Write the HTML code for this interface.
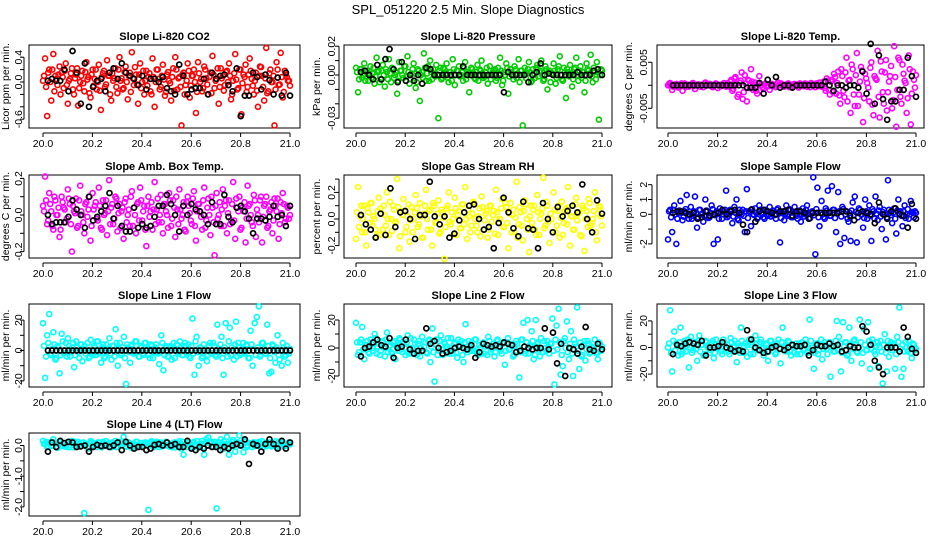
<!DOCTYPE html>
<html><head><meta charset="utf-8"><style>
html,body{margin:0;padding:0;background:#fff;}
svg{display:block;font-family:"Liberation Sans",Arial,sans-serif;}
</style></head><body>
<svg id="chart" width="936" height="540" viewBox="0 0 936 540" xmlns="http://www.w3.org/2000/svg">
<text x="468" y="14" text-anchor="middle" font-size="13">SPL_051220  2.5 Min. Slope Diagnostics</text>
</svg>
<script>
// ---- data ----
const xTicks = [20.0,20.2,20.4,20.6,20.8,21.0];
const xTickLabels = ["20.0","20.2","20.4","20.6","20.8","21.0"];
const co2Vals = [0.02,0.38,-0.55,0.2,-0.3,0.45,0.1,-0.05,0.25,0.15,-0.1,0.3,-0.35,0.05,0.22,-0.2,0.12,-0.38,0.0,0.18,-0.15,0.32,0.08,-0.25,0.2,0.05,-0.12,0.28,-0.45,0.14,-0.08,0.35,0.1,-0.3,0.02,0.22,-0.18,0.4,0.06,-0.1,0.25,-0.28,0.15,0.48,-0.05,0.12,-0.35,0.3,0.0,-0.2,0.18,0.08,-0.15,0.38,-0.4,0.2,0.05,-0.08,0.28,-0.22,0.12,0.02,-0.3,0.22,0.4,-0.12,0.08,-0.7,0.15,-0.05,0.3,-0.25,0.1,0.2,-0.5,0.32,0.0,-0.15,0.25,0.06,-0.2,0.15,0.42,-0.1,0.05,-0.35,0.22,0.1,-0.05,0.18,0.3,-0.28,0.02,0.45,-0.12,0.2,-0.52,0.12,0.28,-0.08,0.38,0.05,-0.2,0.15,-0.4,0.25,0.1,-0.3,0.55,-0.15,0.2,0.0,-0.7,0.32,-0.05,0.47,-0.25,0.18,0.08,0.02];
const co2Vals2 = [0.1,-0.08,0.15,0.0,0.2,-0.15,0.05,0.12,-0.2,0.08,0.18,-0.05,0.02,0.14,-0.12,0.06,0.22,-0.1,0.1,-0.02,0.16,0.04,-0.18,0.12,-0.06,0.2,0.0,-0.14,0.08,0.18,-0.04,0.1,-0.2,0.14,0.06,-0.08,0.2,0.02,-0.12,0.16,0.0,0.1,-0.16,0.06,0.24,-0.04,0.12,-0.1,0.18,0.02,-0.06,0.14,-0.2,0.08,0.0,0.2,-0.12,0.1,0.04,-0.16,0.16,-0.02,0.08,-0.14,0.2,0.06,-0.08,0.12,-0.2,0.02,0.18,-0.06,0.1,0.0,-0.16,0.14,0.05,-0.1,0.2,-0.04,0.08,-0.18,0.12,0.02,0.22,-0.08,0.06,-0.14,0.16,0.0,0.1,-0.2,0.14,0.04,-0.1,0.2,-0.02,0.08,-0.16,0.12,0.18,-0.06,0.02,-0.14,0.1,0.24,-0.08,0.06,-0.18,0.14,0.0,0.1,-0.12,0.2,-0.04,0.08,-0.16,0.12,0.02,-0.06];
const co2Blk = [0.02,0.05,0.02,0.02,0.2,-0.15,0.5,0.15,-0.35,0.3,-0.4,-0.08,0.02,0.05,-0.15,0.15,0.22,0.05,0.3,0.15,0.1,0.05,-0.05,0.1,-0.12,0.05,0.05,0.0,0.08,-0.1,-0.15,-0.2,0.28,0.1,-0.2,-0.12,-0.1,-0.1,0.05,-0.2,0.15,0.05,0.1,0.12,-0.05,-0.15,0.22,-0.55,-0.22,-0.22,0.15,0.08,-0.12,0.12,0.03,-0.2,0.07,-0.22,0.15,-0.22];
const presVals = [0.005,-0.012,0.004,-0.002,0.008,0.002,-0.004,0.006,0.001,-0.006,0.012,0.003,-0.003,0.007,-0.008,0.002,0.011,-0.005,0.004,0.0,-0.013,0.009,0.003,-0.002,0.006,0.013,-0.006,0.001,0.008,-0.009,0.004,-0.018,0.002,0.015,-0.004,0.006,0.01,-0.003,0.001,0.007,-0.03,0.005,-0.002,0.004,0.008,-0.005,0.002,0.011,-0.007,0.003,0.006,0.0,-0.004,0.009,0.002,-0.012,0.005,0.001,-0.003,0.007,0.004,0.01,-0.002,0.002,-0.006,0.006,0.001,0.003,-0.004,0.005,0.012,-0.007,0.002,0.008,-0.013,0.004,0.0,0.006,-0.002,0.011,0.003,-0.035,0.005,0.001,0.009,-0.005,0.004,-0.002,0.007,0.002,0.01,-0.004,0.006,-0.01,0.003,0.001,0.008,-0.006,0.004,0.013,-0.003,0.005,-0.016,0.002,0.007,-0.008,0.004,0.012,-0.004,0.006,0.002,-0.012,0.008,0.003,0.014,-0.005,0.002,0.009,-0.031,0.004];
const presVals2 = [0.002,-0.003,0.004,0.0,-0.004,0.003,0.001,-0.002,0.005,-0.001,0.002,-0.005,0.003,0.0,0.004,-0.003,0.001,0.005,-0.002,0.002,-0.004,0.003,0.0,0.006,-0.001,0.002,-0.003,0.004,0.001,-0.005,0.003,0.0,-0.002,0.005,0.001,-0.004,0.002,0.004,-0.001,0.0,0.003,-0.003,0.005,0.001,-0.002,0.002,-0.004,0.004,0.0,0.003,-0.001,0.002,0.005,-0.003,0.001,0.0,0.004,-0.002,0.002,-0.004,0.003,0.001,-0.001,0.005,0.0,-0.003,0.002,0.004,-0.002,0.001,0.003,-0.004,0.0,0.005,-0.001,0.002,-0.003,0.004,0.001,-0.005,0.003,0.0,-0.002,0.004,0.002,-0.004,0.001,0.005,-0.001,0.003,0.0,-0.003,0.004,0.002,-0.005,0.001,0.003,-0.002,0.006,0.0,-0.004,0.002,0.004,-0.001,0.001,-0.003,0.005,0.0,0.003,-0.002,0.002,-0.004,0.004,0.001,-0.001,0.005,-0.003,0.002,0.0,0.003];
const presBlk = [0.002,0.003,0.0,-0.003,0.007,-0.003,0.011,0.018,0.004,-0.005,0.009,-0.004,0.0,-0.004,0.0,-0.006,0.005,0.004,0.0,0.0,0.0,0.0,0.0,0.0,0.0,0.006,0.0,0.0,0.0,0.0,0.0,0.0,0.0,0.0,0.0,-0.012,0.002,0.0,0.0,0.0,0.0,-0.005,0.0,0.002,0.008,0.0,0.001,0.0,0.0,0.0,0.0,0.0,0.0,0.002,0.0,0.0,0.0,0.003,0.004,0.0];
const tempVals = [0,0.0005,-0.001,0,0.0003,-0.0005,0,-0.0012,0.0004,0,-0.0003,0,0.0005,-0.0008,0,0.0002,0,-0.0004,0.0006,0,0.0003,-0.0002,0,0.0004,-0.0006,0,0.0002,0.0005,-0.0003,0,0.0008,-0.0012,0.0015,0.0003,-0.002,0.001,-0.003,0.0022,-0.0035,0.001,0.0035,-0.001,0.0006,-0.0018,0.002,0,-0.0008,0.0004,0,-0.001,0.0003,0,-0.0004,0.0006,0,0.0002,-0.0003,0,0.0004,0,-0.0002,0.0003,0,-0.0005,0.0002,0,0.0004,-0.0003,0,0.0005,0.0002,-0.0004,0,0.0006,-0.0003,0.0008,-0.0012,0.001,-0.002,0.0012,0.0025,-0.0018,0.003,-0.004,0.002,-0.0026,0.006,0.001,-0.006,0.0035,-0.0045,0.007,-0.002,0.004,-0.008,0.0025,0.0005,-0.0035,0.005,-0.0065,0.0015,0.0075,-0.007,0.003,-0.004,0.0055,-0.0015,0.002,-0.005,0.0085,-0.009,0.006,-0.0025,0.0045,0.001,-0.006,0.0065,-0.0085,0.003,-0.0005];
const tempVals2 = [0.0003,0,-0.0003,0.0002,0,-0.0002,0.0004,0,-0.0004,0.0001,0,0.0003,-0.0002,0,0.0002,-0.0003,0,0.0004,-0.0001,0,0.0002,-0.0004,0,0.0003,0,-0.0002,0.0001,0,0.0004,-0.0003,0.0012,-0.0008,0.0018,-0.0025,0.0006,0.0028,-0.0015,0.0004,0.0012,-0.0006,0.0008,0.0002,-0.0012,0.0004,0,-0.0004,0.0002,0,-0.0002,0.0003,0,-0.0003,0.0002,0,0.0004,-0.0002,0,0.0003,-0.0004,0,0.0002,0,-0.0003,0.0004,0,-0.0002,0.0003,0,-0.0004,0.0002,0,0.0004,-0.0002,0.0005,0,-0.0006,0.0015,-0.001,0.0008,-0.0015,0.0018,0.0005,-0.0022,0.0035,-0.0012,0.0028,-0.0035,0.0012,0.0045,-0.002,0.0022,-0.0045,0.0008,0.0032,-0.0028,0.0015,-0.0005,0.0038,-0.0042,0.002,0.0012,-0.0025,0.0052,-0.0015,0.0028,-0.0055,0.0008,0.0042,-0.0032,0.0018,-0.001,0.0055,-0.004,0.0025,0.0005,-0.0028,0.0035,-0.0018,0.0012,0.0022];
const tempBlk = [0,0,0,0,0,0,0,0,0,0,0,0,0,0,0,0,0,0,-0.0005,-0.0005,-0.0005,0.0005,-0.0018,0.0012,0,0.0018,-0.0005,0,0,-0.0005,0,0,0,0,0,0,0,0.0008,0,-0.0012,0,0,-0.0005,0,0,-0.0005,0.003,-0.0018,0.009,-0.004,0.0065,-0.003,-0.0075,-0.0035,-0.0035,-0.001,-0.001,0.006,0.002,-0.0025];
const ambVals = [0.05,0.21,-0.05,0.12,0.02,-0.08,0.08,0.0,-0.12,0.1,0.04,-0.04,0.14,0.06,-0.2,0.02,0.09,-0.06,0.16,0.0,-0.1,0.07,0.03,-0.14,0.12,0.05,-0.02,0.15,-0.07,0.08,0.01,-0.11,0.19,0.04,-0.05,0.1,-0.09,0.06,0.02,-0.13,0.09,0.0,-0.06,0.13,0.04,-0.1,0.07,0.15,-0.03,0.05,-0.17,0.1,0.02,-0.08,0.18,0.03,-0.04,0.11,-0.1,0.06,0.0,0.12,-0.06,0.08,-0.12,0.03,0.14,-0.02,0.07,-0.09,0.1,0.01,-0.05,0.13,-0.14,0.06,0.02,-0.08,0.15,-0.03,0.09,-0.11,0.04,-0.22,0.12,0.0,-0.06,0.14,0.05,-0.1,0.08,-0.03,0.18,-0.13,0.04,0.1,-0.07,0.02,-0.15,0.16,0.06,-0.04,0.11,-0.12,0.0,0.08,-0.15,0.05,0.1,-0.06,0.03,-0.1,0.09,0.02,-0.13,0.07,0.12,-0.04,0.05,-0.02];
const ambVals2 = [0.02,0.08,-0.03,0.06,-0.06,0.1,0.0,0.04,-0.08,0.07,0.03,-0.02,0.09,-0.05,0.05,0.01,-0.07,0.08,0.02,-0.04,0.06,-0.01,0.1,-0.06,0.03,0.07,-0.03,0.05,-0.08,0.0,0.08,0.02,-0.05,0.06,-0.02,0.09,0.01,-0.07,0.04,0.07,-0.04,0.03,0.1,-0.06,0.0,0.06,-0.03,0.08,0.02,-0.08,0.05,-0.01,0.07,0.03,-0.05,0.09,0.0,-0.04,0.06,0.02,-0.07,0.08,-0.02,0.04,0.1,-0.05,0.03,0.0,-0.08,0.07,0.05,-0.03,0.09,-0.06,0.02,0.06,-0.01,0.08,-0.07,0.04,0.0,0.1,-0.04,0.05,-0.02,0.07,0.03,-0.06,0.08,0.01,-0.05,0.06,-0.03,0.09,0.02,-0.08,0.04,0.07,-0.02,0.05,0.0,-0.06,0.08,0.03,-0.04,0.1,-0.01,0.06,-0.07,0.02,0.07,-0.03,0.05,0.09,-0.05,0.01,0.06,-0.02,0.04,0.0];
const ambBlk = [0.0,-0.05,-0.04,-0.04,-0.04,-0.01,0.08,0.03,0.0,-0.07,0.1,-0.03,-0.01,0.02,0.05,0.12,-0.02,0.05,-0.06,-0.09,-0.09,0.04,-0.07,-0.05,-0.07,-0.06,-0.01,0.05,0.05,0.11,0.06,0.0,-0.09,0.05,0.0,0.06,0.03,0.02,0.0,-0.05,0.07,-0.05,-0.05,0.11,-0.01,-0.04,0.04,0.05,0.02,-0.02,-0.1,-0.02,-0.02,-0.03,-0.01,0.05,-0.01,0.0,-0.06,0.05];
const rhVals = [-0.15,0.24,0.02,-0.1,0.1,-0.2,0.05,0.12,-0.05,0.0,-0.13,0.16,0.08,-0.08,0.03,0.2,-0.12,0.0,0.1,-0.03,0.3,-0.22,0.06,0.15,-0.1,0.02,-0.17,0.09,0.0,0.18,-0.06,0.12,-0.14,0.04,0.22,-0.08,0.07,-0.2,0.1,-0.02,0.14,-0.1,0.05,-0.3,0.08,0.2,-0.04,0.0,0.16,-0.12,0.06,-0.07,0.11,0.24,-0.15,0.02,-0.05,0.13,0.0,-0.1,0.08,0.17,-0.08,0.04,-0.14,0.1,-0.02,0.06,0.22,-0.12,0.0,0.15,-0.06,0.09,-0.22,0.12,0.03,-0.1,0.28,-0.04,0.05,-0.16,0.14,0.0,-0.25,0.1,0.07,-0.08,0.18,-0.12,0.04,0.31,-0.05,0.1,-0.18,0.0,0.2,-0.1,0.06,-0.14,0.13,-0.03,0.08,0.24,-0.2,0.02,-0.08,0.16,0.04,-0.12,0.1,-0.24,0.06,0.15,-0.05,0.0,0.2,-0.16,0.1,0.02];
const rhVals2 = [0.05,-0.06,0.1,0.0,-0.1,0.08,-0.03,0.12,0.02,-0.08,0.06,-0.12,0.04,0.1,-0.05,0.0,0.13,-0.09,0.07,-0.02,0.09,-0.13,0.03,0.06,-0.06,0.11,-0.01,-0.1,0.05,0.08,-0.04,0.02,-0.14,0.1,0.0,0.06,-0.08,0.12,-0.03,0.04,-0.11,0.07,0.01,-0.06,0.1,-0.02,0.05,-0.12,0.08,0.03,-0.07,0.11,-0.04,0.0,0.07,-0.1,0.04,0.12,-0.05,0.02,-0.13,0.09,-0.01,0.06,-0.08,0.1,0.03,-0.11,0.05,0.0,0.08,-0.06,0.12,-0.03,0.04,-0.1,0.07,0.01,-0.14,0.09,-0.05,0.06,0.11,-0.08,0.02,-0.03,0.1,-0.12,0.05,0.0,0.08,-0.07,0.13,-0.02,0.04,-0.1,0.07,-0.05,0.1,0.01,-0.12,0.06,-0.04,0.09,0.02,-0.08,0.11,-0.01,0.05,-0.13,0.08,0.0,-0.06,0.12,-0.03,0.06,-0.1,0.04,0.09,-0.05];
const rhBlk = [0.03,-0.04,-0.08,-0.14,0.04,-0.12,0.23,-0.06,0.05,0.06,0.0,-0.15,0.03,0.03,0.28,0.02,-0.04,0.02,-0.14,-0.11,-0.01,0.05,0.1,0.11,0.0,-0.08,-0.06,-0.22,-0.03,0.16,0.05,-0.07,-0.13,0.13,-0.07,-0.08,-0.22,0.12,0.0,-0.1,0.09,0.02,0.06,0.1,0.05,0.26,0.0,-0.1,0.14,0.04];
const flowVals = [-1.7,0.3,-1.2,0.6,-2.0,0.1,0.9,-0.4,0.2,1.3,-0.3,0.5,-0.1,1.2,-0.9,0.3,0.0,-0.5,1.0,0.2,-0.2,0.6,-2.0,0.1,-1.7,0.4,-0.3,0.2,1.6,-0.1,0.3,-0.6,0.5,1.0,-0.4,0.1,0.3,-1.2,1.7,0.2,-0.8,0.0,0.4,-0.3,0.6,0.1,-0.2,0.3,-0.1,0.5,0.0,0.2,-0.3,0.4,-1.9,0.1,-0.4,0.6,0.0,0.3,-0.2,0.5,-0.1,0.2,-0.5,0.4,0.0,0.6,-0.3,0.1,2.5,-2.7,1.8,-0.8,0.9,-0.2,0.4,1.6,-0.1,1.9,0.3,-1.2,1.5,-2.0,0.5,-1.6,0.2,-0.5,-1.8,0.8,1.2,-1.9,0.4,0.0,-0.9,1.0,-0.3,0.6,-1.8,0.2,1.2,-0.4,0.5,-1.0,0.3,-1.7,2.3,0.1,-0.6,0.4,-1.3,1.0,0.2,-0.8,0.6,0.0,-0.3,0.9,0.1,0.2];
const flowVals2 = [0.2,-0.2,0.3,0.0,-0.3,0.25,0.1,-0.15,0.35,-0.05,0.15,-0.3,0.2,0.05,-0.2,0.3,0.0,-0.1,0.25,-0.25,0.1,0.35,-0.05,0.2,-0.3,0.15,0.0,0.3,-0.2,0.05,0.25,-0.15,0.1,-0.3,0.3,0.0,-0.1,0.2,-0.25,0.15,0.35,-0.05,0.1,-0.2,0.3,0.05,-0.3,0.2,0.0,-0.15,0.25,-0.05,0.3,0.1,-0.25,0.2,0.0,-0.1,0.35,-0.2,0.15,0.05,-0.3,0.25,0.0,-0.15,0.3,0.1,-0.25,0.2,-0.05,0.35,-0.2,0.1,0.0,-0.3,0.25,0.15,-0.1,0.3,-0.25,0.05,0.2,-0.15,0.35,0.0,-0.3,0.1,0.25,-0.05,0.15,-0.2,0.3,0.0,-0.25,0.2,0.1,-0.1,0.35,-0.3,0.05,0.25,-0.15,0.15,0.0,-0.2,0.3,-0.05,0.1,-0.3,0.25,0.05,-0.1,0.2,-0.25,0.35,0.0,0.15,-0.2,0.1];
const flowBlk = [0.1,0.2,0.2,0.1,0.0,0.1,-0.3,-0.2,0.2,-0.1,0.0,0.1,0.3,0.0,0.2,0.3,0.1,-0.7,-1.2,0.3,-0.5,0.2,0.3,0.2,0.1,0.0,0.2,0.2,0.3,-0.1,0.2,0.2,0.1,-0.3,0.1,0.1,0.1,0.1,0.1,0.1,0.1,0.2,0.2,-0.1,-0.4,0.1,0.2,0.1,0.0,-0.6,0.8,0.0,-0.3,0.2,0.4,0.0,-0.1,-0.9,0.7,-0.3];
const line1Vals = [18,-18,10,24,-3,12,-6,3,-15,11,-2,5,8,-4,2,-11,6,-1,4,-7,3,0,-5,7,-3,2,6,-2,-8,4,-4,1,8,-6,3,14,-10,5,-2,9,-22,2,-8,4,-1,6,-4,3,-2,5,0,-3,4,-5,2,-1,-9,10,-13,3,-4,2,-6,5,0,-2,6,-3,3,-1,4,-5,21,-16,9,-10,2,-4,1,-7,3,-2,5,-3,17,-1,9,-16,18,-4,15,2,-6,19,5,-3,1,-2,4,-5,13,-10,18,22,29,-3,5,-2,17,-15,-14,3,-8,10,-6,-10,2,-3,-8,1];
const line1Vals2 = [3,-4,5,-2,1,4,-5,2,-3,6,0,-4,3,-1,5,-3,2,-5,4,1,-2,5,-4,0,3,-3,6,-1,2,-5,4,0,-2,3,-4,5,1,-3,2,-5,4,-1,3,-2,6,0,-4,2,-3,5,1,-5,3,-1,4,-2,0,5,-3,2,-4,3,1,-5,4,-1,2,-3,5,0,-4,3,-2,6,-1,2,-5,4,0,-3,5,-2,3,-4,1,4,-5,2,-1,6,-3,0,4,-4,2,-2,5,-1,3,-5,4,0,-3,2,-4,5,1,-2,3,-5,4,-1,2,-3,0,5,-4,3,-2];
const line1Blk = [0,0,0,0,0,0,0,0,0,0,0,0,0,0,0,0,0,0,0,0,0,0,0,0,0,0,0,0,0,0,0,0,0,0,0,0,0,0,0,0,0,0,0,0,0,0,0,0,0,0,0,0,0,0,0,0,0,0,0,0];
const line2Vals = [18,-5,4,15,-8,2,-3,6,0,10,-4,3,-2,5,-6,11,1,-3,4,-8,2,7,-1,3,-5,9,0,-4,6,-2,3,-6,8,1,-3,5,-10,14,-24,6,-2,9,-5,3,1,-4,7,-2,4,-7,2,5,-10,17,-3,1,4,-2,6,-5,0,3,-4,2,8,-3,1,-6,5,0,-2,3,-12,4,-1,2,-6,1,3,-21,6,18,-4,20,2,12,-8,20,4,-6,-3,5,-2,1,3,21,-26,16,28,-19,-13,7,19,-8,12,-20,3,29,-15,-6,2,-9,5,-4,1,0,-3,-8,3,1];
const line2Vals2 = [4,-3,6,-1,2,5,-4,3,-2,7,1,-5,4,0,6,-3,2,-4,5,1,-2,6,-3,0,4,-4,7,-1,3,-5,5,0,-2,4,-4,6,1,-3,3,-5,5,-1,4,-2,7,0,-4,3,-3,6,1,-5,4,-1,5,-2,0,6,-3,2,-4,4,1,-5,5,-1,3,-3,6,0,-4,4,-2,7,-1,3,-5,5,0,-3,6,-2,4,-4,1,5,-5,3,-1,7,-3,0,5,-4,3,-2,6,-1,4,-5,5,0,-3,3,-4,6,1,-2,4,-5,5,-1,3,-3,0,6,-4,4,-2];
const line2Blk = [-6,0,1,4,6,2,1,7,-7,0,1,6,-1,-4,-2,-2,14,3,5,0,-4,-3,-2,0,1,0,-1,2,-7,-3,3,2,1,2,1,4,3,2,-3,-2,1,0,-1,0,0,14,-1,11,-11,3,-20,0,-1,-4,1,15,-1,-2,3,-1];
const line3Vals = [0,28,-18,12,3,-6,15,-3,5,1,-15,8,-2,4,-10,9,2,-6,5,0,-4,3,-8,6,-1,2,-5,4,0,-3,7,-2,5,-11,1,15,-4,3,-7,6,2,-5,9,-2,4,-1,-6,3,-10,5,0,2,-4,6,-12,15,1,-3,4,-6,2,0,-5,3,1,-2,6,-4,21,0,-16,3,-5,2,-9,4,-1,3,-22,1,-3,20,8,-18,19,4,-6,15,-10,5,2,-4,21,-12,14,-2,19,-16,6,-3,1,-14,5,-27,10,-18,-7,4,2,-16,8,30,-22,-16,4,-3,1,-8,2,-1];
const line3Vals2 = [3,-4,5,-2,1,4,-5,2,-3,6,0,-4,3,-1,5,-3,2,-5,4,1,-2,5,-4,0,3,-3,6,-1,2,-5,4,0,-2,3,-4,5,1,-3,2,-5,4,-1,3,-2,6,0,-4,2,-3,5,1,-5,3,-1,4,-2,0,5,-3,2,-4,3,1,-5,4,-1,2,-3,5,0,-4,3,-2,6,-1,2,-5,4,0,-3,5,-2,3,-4,1,4,-5,2,-1,6,-3,0,4,-4,2,-2,5,-1,3,-5,4,0,-3,2,-4,5,1,-2,3,-5,4,-1,2,-3,0,5,-4,3,-2];
const line3Blk = [-5,2,1,3,4,3,2,5,-6,0,0,1,4,0,-1,-3,-2,-3,13,6,0,-2,-4,-3,0,1,-1,-2,0,2,1,1,2,-6,-2,2,1,1,3,1,2,-3,-2,1,0,0,16,12,2,-10,-15,-20,0,0,0,-3,15,8,-1,-4];
const line4Vals = [0.15,0.05,-0.05,0.1,-0.02,0.2,0.08,-0.08,0.12,0.02,0.06,-0.04,0.1,0.0,0.15,-0.06,0.05,0.12,-0.02,0.08,-2.2,0.04,-0.1,0.14,0.02,0.06,-0.05,0.1,-0.03,0.12,0.04,0.0,0.08,-0.06,0.05,0.15,-0.04,0.06,0.1,0.28,-0.02,0.08,0.0,-0.08,0.05,0.12,0.02,-0.04,0.08,0.0,0.06,-2.1,0.1,-0.02,0.05,0.12,-0.05,0.03,0.08,0.0,0.1,-0.03,0.06,0.02,-0.06,0.08,0.14,-0.1,-0.3,0.04,0.08,0.0,-0.05,0.12,0.02,-0.08,0.06,0.15,-0.3,0.2,0.26,0.08,-0.04,0.12,-2.05,0.1,0.2,-0.12,0.04,0.28,-0.3,0.06,0.18,-0.2,0.1,0.32,0.02,-0.22,0.12,0.0,0.06,-0.05,0.1,0.02,0.08,-0.04,0.14,0.03,-0.02,0.06,0.1,0.0,0.05,-0.06,0.12,0.04,0.08,-0.02,0.06,0.1];
const line4Vals2 = [0.05,0.12,-0.03,0.08,0.0,0.1,-0.05,0.06,0.14,-0.02,0.04,0.1,-0.06,0.08,0.02,0.12,-0.04,0.06,0.0,0.1,0.04,-0.05,0.08,0.12,-0.02,0.06,0.1,0.0,-0.06,0.08,0.14,0.02,-0.03,0.1,0.06,-0.05,0.04,0.12,0.0,0.08,-0.04,0.1,0.06,0.02,-0.06,0.12,0.04,0.08,-0.02,0.1,0.0,0.06,0.14,-0.05,0.08,0.02,0.1,-0.03,0.06,0.12,0.0,0.04,-0.06,0.1,0.08,-0.02,0.06,0.12,0.0,-0.05,0.1,0.04,0.08,-0.03,0.14,0.02,0.06,-0.06,0.1,0.0,0.08,0.12,-0.04,0.04,0.1,-0.02,0.06,0.14,0.0,-0.06,0.08,0.12,0.02,-0.04,0.1,0.06,0.0,0.14,-0.05,0.08,0.04,0.1,-0.02,0.06,0.12,0.0,-0.06,0.08,0.04,0.1,-0.03,0.06,0.14,0.02,-0.05,0.1,0.08,0.0,0.06,0.04];
const line4Blk = [-0.2,0.1,-0.05,0.15,0.08,0.12,0.1,-0.05,-0.03,0.0,-0.2,-0.05,0.02,-0.02,0.0,-0.05,0.0,0.1,-0.15,0.12,0.0,-0.1,-0.05,-0.05,-0.15,-0.1,0.02,0.05,0.0,0.1,0.0,0.05,-0.05,-0.05,0.15,-0.1,-0.15,-0.05,-0.1,0.0,-0.05,-0.05,-0.15,-0.05,-0.1,0.0,0.05,0.0,0.2,-0.6,0.05,0.0,-0.2,0.05,0.2,0.05,-0.1,0.15,-0.1,0.1];
// tick values per panel
const co2Ticks=[0.4,0.2,0.0,-0.2,-0.4,-0.6], co2Labels=["0.4","","0.0","","","-0.6"];
const presTicks=[0.02,0.01,0.0,-0.01,-0.02,-0.03], presLabels=["0.02","","0.00","","","-0.03"];
const tempTicks=[0.005,0.0,-0.005], tempLabels=["0.005","","-0.005"];
const ambTicks=[0.2,0.1,0.0,-0.1,-0.2], ambLabels=["0.2","","0.0","","-0.2"];
const rhTicks=[0.3,0.2,0.1,0.0,-0.1,-0.2], rhLabels=["","0.2","","0.0","","-0.2"];
const flowTicks=[2,1,0,-1,-2], flowLabels=["2","1","0","","-2"];
const lineTicks=[20,10,0,-10,-20], lineLabels=["20","","0","","-20"];
const l4Ticks=[0.0,-0.5,-1.0,-1.5,-2.0], l4Labels=["0.0","","-1.0","","-2.0"];

const svg = document.getElementById('chart');
const NS = 'http://www.w3.org/2000/svg';
const cols = [{bl:29,br:300,x0:43,x1:290,tl:22,yl:9},{bl:344,br:612,x0:356,x1:602,tl:335,yl:320},{bl:657,br:924,x0:668,x1:916,tl:647,yl:632}];
const rows = [{bt:45,bb:128},{bt:175,bb:258},{bt:304,bb:387},{bt:433,bb:516}];
function mk(tag, attrs){const e=document.createElementNS(NS,tag);for(const k in attrs)e.setAttribute(k,attrs[k]);return e;}

function panel(c,r,title,ylab,color,valsA,valsB,blk,ticks,labels,v0,p0,scale,name){
  const C=cols[c],R=rows[r];
  const g=mk('g',{});
  
  
  svg.appendChild(g);
  const xs=v=>C.x0+(v-20)*(C.x1-C.x0);
  const ys=v=>p0-(v-v0)*scale;
  const box=mk('rect',{x:C.bl,y:R.bt,width:C.br-C.bl,height:R.bb-R.bt,fill:'none',stroke:'#000','stroke-width':1});
  
  
  g.appendChild(box);
  const t=mk('text',{x:(C.bl+C.br)/2,y:R.bt-5,'text-anchor':'middle','font-size':11,'font-weight':'bold'});
  t.textContent=title;
  
  
  g.appendChild(t);
  const xa=mk('g',{});
  
  
  g.appendChild(xa);
  xa.appendChild(mk('line',{x1:xs(xTicks[0]),x2:xs(xTicks[xTicks.length-1]),y1:R.bb+5,y2:R.bb+5,stroke:'#000'}));
  xTicks.forEach((v,i)=>{
    xa.appendChild(mk('line',{x1:xs(v),x2:xs(v),y1:R.bb+5,y2:R.bb+9,stroke:'#000'}));
    const tl=mk('text',{x:xs(v),y:R.bb+19,'text-anchor':'middle','font-size':10.5});
    tl.textContent=xTickLabels[i];
    
    
    xa.appendChild(tl);
  });
  const ya=mk('g',{});
  
  
  g.appendChild(ya);
  const ax=C.bl-5;
  ya.appendChild(mk('line',{x1:ax,x2:ax,y1:ys(ticks[0]),y2:ys(ticks[ticks.length-1]),stroke:'#000'}));
  ticks.forEach((v,i)=>{
    ya.appendChild(mk('line',{x1:ax-4,x2:ax,y1:ys(v),y2:ys(v),stroke:'#000'}));
    if(labels[i]){
      const yl=mk('text',{x:C.tl,y:ys(v),'text-anchor':'middle','font-size':10.5,transform:`rotate(-90 ${C.tl} ${ys(v)})`});
      yl.textContent=labels[i];
      
      
      ya.appendChild(yl);
    }
  });
  const ym=(R.bt+R.bb)/2;
  const yt=mk('text',{x:C.yl,y:ym,'text-anchor':'middle','font-size':10.5,transform:`rotate(-90 ${C.yl} ${ym})`});
  yt.textContent=ylab;
  
  
  ya.appendChild(yt);
  // interleave the two colored series in time
  const vals=[];
  valsA.forEach((v,i)=>{vals.push(v); if(i<valsB.length) vals.push(valsB[i]);});
  const n=vals.length;
  vals.forEach((v,i)=>{
    const p=mk('circle',{cx:xs(20+i/(n-1)),cy:ys(v),r:2.5,fill:'none',stroke:color,'stroke-width':1.6});
    
    
    g.appendChild(p);
  });
  const m=blk.length;
  blk.forEach((v,i)=>{
    const p=mk('circle',{cx:xs(20.02+0.98*i/(m-1)),cy:ys(v),r:2.5,fill:'none',stroke:'#000','stroke-width':1.7});
    
    
    g.appendChild(p);
  });
}
panel(0,0,'Slope Li-820 CO2','Licor ppm per min.','#ff0000',co2Vals,co2Vals2,co2Blk,co2Ticks,co2Labels,0,82,62,'co2');
panel(1,0,'Slope Li-820 Pressure','kPa per min.','#00cc00',presVals,presVals2,presBlk,presTicks,presLabels,0,75,1440,'pressure');
panel(2,0,'Slope Li-820 Temp.','degrees C per min.','#ff00ff',tempVals,tempVals2,tempBlk,tempTicks,tempLabels,0,85.3,4600,'li820-temp');
panel(0,1,'Slope Amb. Box Temp.','degrees C per min.','#ff00ff',ambVals,ambVals2,ambBlk,ambTicks,ambLabels,0,215,183,'amb-box-temp');
panel(1,1,'Slope Gas Stream RH','percent per min.','#ffff00',rhVals,rhVals2,rhBlk,rhTicks,rhLabels,0,219,133,'gas-rh');
panel(2,1,'Slope Sample Flow','ml/min per min.','#0000ff',flowVals,flowVals2,flowBlk,flowTicks,flowLabels,0,214.3,14.8,'sample-flow');
panel(0,2,'Slope Line 1 Flow','ml/min per min.','#00ffff',line1Vals,line1Vals2,line1Blk,lineTicks,lineLabels,0,350.5,1.52,'line1-flow');
panel(1,2,'Slope Line 2 Flow','ml/min per min.','#00ffff',line2Vals,line2Vals2,line2Blk,lineTicks,lineLabels,0,348,1.4,'line2-flow');
panel(2,2,'Slope Line 3 Flow','ml/min per min.','#00ffff',line3Vals,line3Vals2,line3Blk,lineTicks,lineLabels,0,347.5,1.33,'line3-flow');
panel(0,3,'Slope Line 4 (LT) Flow','ml/min per min.','#00ffff',line4Vals,line4Vals2,line4Blk,l4Ticks,l4Labels,0,445.5,30.7,'line4-flow');
</script>
</body></html>
